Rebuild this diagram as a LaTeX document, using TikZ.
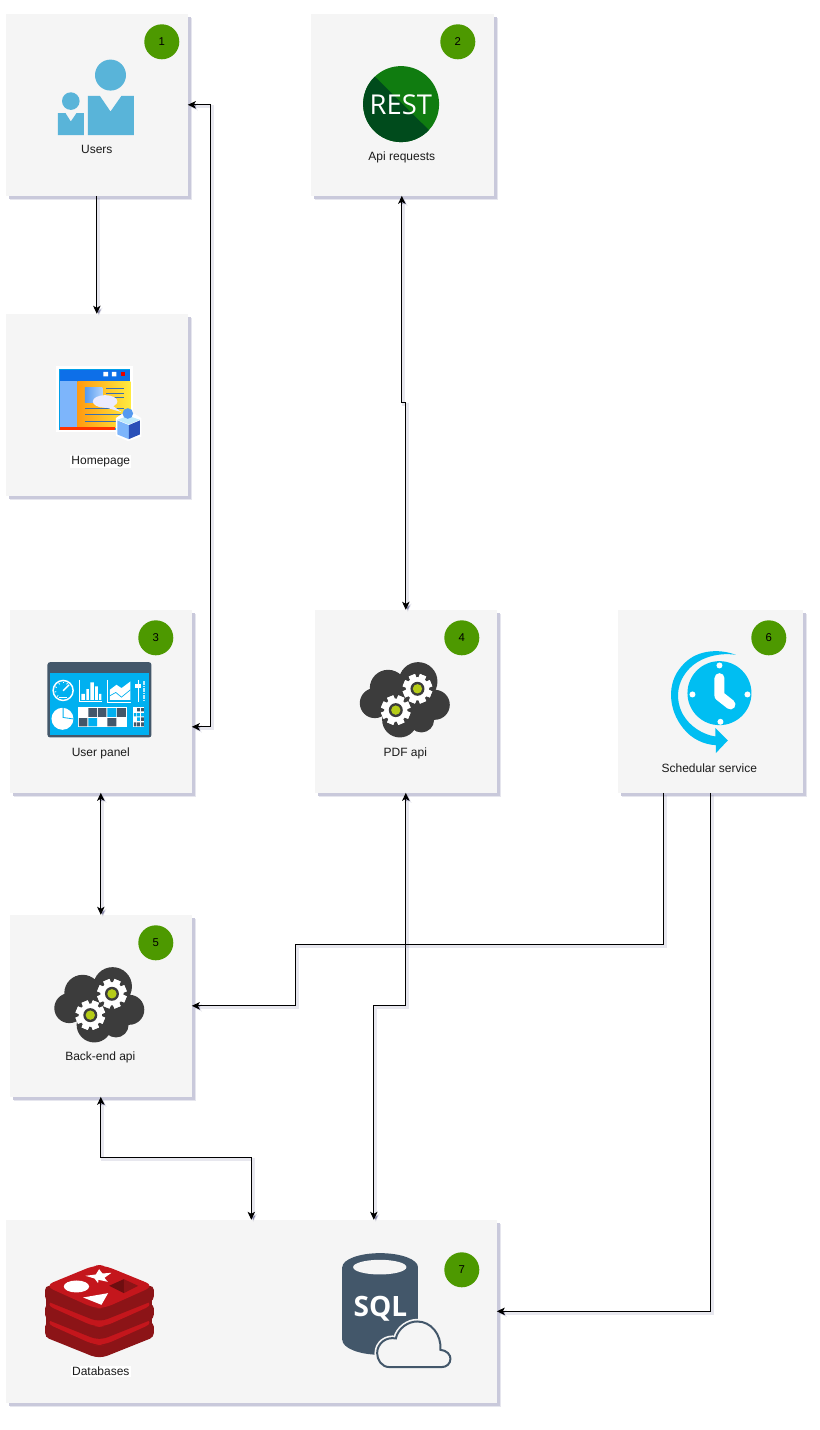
\documentclass[tikz,border=0pt]{standalone}
\usepackage{fontspec}
\setmainfont{Liberation Sans}
\newfontfamily\restfont{Open Sans}
\usetikzlibrary{arrows.meta,shapes.geometric}
\definecolor{boxbg}{HTML}{F5F5F5}
\definecolor{shadowa}{HTML}{E6E6EE}
\definecolor{shadowb}{HTML}{C9C9DB}
\definecolor{connshadow}{HTML}{8888AA}
\definecolor{badgegreen}{HTML}{4D9900}
\definecolor{userblue}{HTML}{59B4D9}
\definecolor{restlight}{HTML}{107C10}
\definecolor{restdark}{HTML}{004B1C}
\definecolor{slate}{HTML}{43576A}
\definecolor{cyanb}{HTML}{00B0F0}
\definecolor{clockb}{HTML}{00BEF2}
\definecolor{clouddark}{HTML}{3C3C3C}
\definecolor{lime}{HTML}{B5CC18}
\definecolor{redisred}{HTML}{C4161C}
\definecolor{redisdark}{HTML}{8C1417}
\definecolor{redisdeep}{HTML}{6E0E10}
\definecolor{labelcol}{HTML}{1A1A1A}
\definecolor{winblue}{HTML}{0D6FE8}
\definecolor{winedge}{HTML}{00A0E8}
\definecolor{winside}{HTML}{7DB5FB}
\definecolor{winline}{HTML}{3A6FB0}
\definecolor{winorange}{HTML}{FF9A10}
\definecolor{winyellow}{HTML}{FFEB40}
\definecolor{cubedark}{HTML}{2A50B8}
\tikzset{
  boxnode/.style={rectangle,fill=boxbg,inner sep=0pt,outer sep=0pt,
    preaction={fill=shadowa,transform canvas={shift={(3pt,-3pt)}}},
    preaction={fill=shadowb,transform canvas={shift={(2.2pt,-2.2pt)}}}},
  badge/.style={circle,fill=badgegreen,minimum size=26.25pt,inner sep=0pt,font=\fontsize{8.5}{10}\selectfont,text=black},
  lbl/.style={inner sep=1pt,font=\fontsize{9}{11}\selectfont,text=labelcol},
  conn/.style={draw=black,line width=.75pt,>={Stealth[length=6pt,width=5.5pt,inset=1.5pt]},
    preaction={draw=connshadow,draw opacity=.2,line width=2pt,transform canvas={shift={(1.5pt,-1.5pt)}}}},
}
\newcommand{\boxat}[5]{\node[boxnode,minimum width={(#4-#2)*0.75pt},minimum height={(#5-#3)*0.75pt}] (#1) at ({(#2+#4)/2},{(#3+#5)/2}) {};}
\newcommand{\geardraw}[2]{%
  \foreach \a in {0,45,...,315}
    \fill[white,rotate around={\a+22.5:(#1,#2)}] (#1-10,#2-44) rectangle (#1+10,#2+44);
  \fill[white] (#1,#2) circle (35);
  \fill[clouddark] (#1,#2) circle (21);
  \fill[lime] (#1,#2) circle (14);}
\newcommand{\cloudicon}[2]{%
  \begin{scope}[shift={(#1,#2)},scale=0.3333]
    \fill[clouddark] (235,185) circle (58) (145,205) circle (55) (105,250) circle (45)
      (285,255) circle (45) (180,300) circle (53) (245,300) circle (38) (200,250) circle (60);
    \geardraw{233}{207}
    \geardraw{168}{271}
  \end{scope}}
\newcommand{\redislayer}[1]{%
  \fill[redisdark,rounded corners=3pt] (46,108+#1) -- (46,152+#1) -- (195,212+#1) -- (222,212+#1) -- (372,152+#1) -- (372,108+#1) -- cycle;
  \fill[redisred,rounded corners=7pt] (44,108+#1) -- (195,46+#1) -- (222,46+#1) -- (374,108+#1) -- (222,176+#1) -- (195,176+#1) -- cycle;}
\begin{document}
\begin{tikzpicture}[x=0.75pt,y=-0.75pt]
\useasboundingbox (0.2,0.2) rectangle (820.2,1430.2);
\fill[white] (0,0) rectangle (821,1431);
% boxes
\boxat{users}{6}{14}{188}{196}
\boxat{rest}{311}{14}{494}{196}
\boxat{home}{6}{314}{188}{496}
\boxat{panel}{10}{610}{192}{793}
\boxat{pdf}{315}{610}{497}{793}
\boxat{sched}{618}{610}{803}{793}
\boxat{back}{10}{915}{192}{1097}
\boxat{db}{6}{1220}{497}{1403}
% connector ends
\coordinate (panelE) at (192,727);
\coordinate (backE) at (192,1006);
\coordinate (schedA) at (664,793);
\coordinate (dbN1) at (374,1220);
\coordinate (restS) at (402,196);
\coordinate (pdfN) at (406,610);
\coordinate (pdfS) at (406,793);
\coordinate (panelS) at (101,793);
\coordinate (backN) at (101,915);
\coordinate (backS) at (101,1097);
\coordinate (dbN2) at (251.5,1220);
% connectors
\draw[conn,->] (users.south) -- (home.north);
\draw[conn,<->] (users.east) -- (211,105) -- (211,727) -- (panelE);
\draw[conn,<->] (restS) -- (402,403) -- (406,403) -- (pdfN);
\draw[conn,<->] (panelS) -- (backN);
\draw[conn,<->] (pdfS) -- (406,1006) -- (374,1006) -- (dbN1);
\draw[conn,->] (schedA) -- (664,945) -- (296,945) -- (296,1006) -- (backE);
\draw[conn,->] (sched.south) -- (710.5,1311.5) -- (db.east);
\draw[conn,<->] (backS) -- (101,1158) -- (251.5,1158) -- (dbN2);
% badges
\node[badge] (b1) at (162,42) {1};
\node[badge] (b2) at (458,42) {2};
\node[badge] (b3) at (156,638) {3};
\node[badge] (b4) at (462,638) {4};
\node[badge] (b6) at (769,638) {6};
\node[badge] (b5) at (156,943) {5};
\node[badge] (b7) at (462,1270) {7};
% users icon
\fill[userblue] (110.7,75.3) circle (15.5);
\fill[userblue] (88,96) -- (100,96) -- (110.7,111.7) -- (121.7,96) -- (134,96) -- (134,135.3) -- (88,135.3) -- cycle;
\fill[userblue] (71,101.3) circle (8.8);
\fill[userblue] (58,113.3) -- (65.7,113.3) -- (71,121.7) -- (76.7,113.3) -- (84,113.3) -- (84,135.3) -- (58,135.3) -- cycle;
% rest icon
\fill[restlight] (401.3,104.3) circle (38);
\begin{scope}
  \clip (401.3,104.3) circle (38);
  \fill[restdark] (355,57) -- (445,146) -- (355,146) -- cycle;
\end{scope}
\node[text=white,inner sep=0pt,font=\restfont\fontsize{20.5}{22}\selectfont] (resttxt) at (401,104.5) {REST};
% homepage icon
\begin{scope}[shift={(40,350)},scale=0.3333]
  \fill[white] (50,50) rectangle (280,248);
  \fill[winedge] (58,58) rectangle (272,242);
  \fill[winblue] (60,60) rectangle (272,93);
  \fill[white] (191,66) rectangle (205,80) (216,66) rectangle (230,80);
  \fill[red!90!black] (243,66) rectangle (257,80);
  \shade[left color=winorange,right color=winyellow] (113,95) rectangle (272,233);
  \fill[winside] (62,95) rectangle (113,232);
  \fill[red!60!orange] (62,232) rectangle (225,240);
  \shade[left color=winblue!70!white,right color=winside!60!white] (135,112) rectangle (188,158);
  \foreach \yy in {117,130,143} \draw[winline,line width=.7pt] (200,\yy) -- (252,\yy);
  \draw[winline,line width=.7pt] (135,176) -- (252,176) (135,195) -- (252,195) (135,214) -- (240,214);
  \fill[blue!8!white] (215,165) -- (245,187) -- (195,172) -- cycle;
  \fill[blue!8!white] (196,155) ellipse (37 and 19);
  \fill[white] (228,205) -- (265,180) -- (305,205) -- (305,260) -- (265,274) -- (228,258) -- cycle;
  \fill[winside] (233,212) -- (267,226) -- (267,268) -- (233,254) -- cycle;
  \fill[cubedark] (267,226) -- (300,212) -- (300,254) -- (267,268) -- cycle;
  \fill[cyan!25!white] (233,210) -- (265,198) -- (300,210) -- (267,224) -- cycle;
  \fill[winblue!70!white] (264,191) circle (16);
\end{scope}
% dashboard icon
\begin{scope}[shift={(30,620)},scale=0.3333]
  \fill[slate,rounded corners=2pt] (53,127) rectangle (365,353);
  \fill[cyanb] (62,160) rectangle (358,345);
  % gauge
  \draw[white,line width=1.1pt] (100,212) circle (30);
  \draw[white,line width=1pt] (100,213) -- (118,195);
  \draw[white,line width=.8pt] (88,232) -- (112,232);
  \foreach \a in {135,170,205,240,270,300}
    \draw[white,line width=.6pt] (100,212) ++(\a:26) -- ++(\a:-5);
  % bars
  \draw[white,line width=.7pt] (148,180) -- (148,245) -- (218,245);
  \fill[white] (155,222) rectangle (165,240) (170,208) rectangle (177,240) (182,188) rectangle (192,240) (196,200) rectangle (204,240) (208,222) rectangle (215,240);
  % area
  \draw[white,line width=.7pt] (234,180) -- (234,247) -- (304,247);
  \fill[white] (240,210) -- (260,195) -- (275,205) -- (302,185) -- (302,240) -- (240,240) -- cycle;
  \draw[cyanb,line width=.5pt] (240,228) -- (258,218) -- (275,232) -- (302,210);
  % slider
  \draw[white,line width=.8pt] (325,180) -- (325,248);
  \fill[white] (317,194) rectangle (333,204);
  \foreach \yy in {184,191,...,246} \fill[white!75!cyanb] (339,\yy) rectangle (346,\yy+5);
  % pie
  \fill[white] (98,297) circle (33);
  \draw[cyanb,line width=.6pt] (100,262) -- (100,293) -- (134,298);
  % grid
  \fill[white] (145,262) rectangle (292,323);
  \fill[slate] (176,265) rectangle (202,291) (205,265) rectangle (230,291) (262,265) rectangle (288,291)
    (147,295) rectangle (173,320) (233,295) rectangle (260,320);
  \fill[cyanb] (233,265) rectangle (260,291) (176,295) rectangle (202,320);
  \fill[white] (310,262) rectangle (344,323);
  \fill[slate] (322,265) rectangle (330,275) (334,265) rectangle (342,275) (334,293) rectangle (342,303) (312,308) rectangle (320,320) (322,308) rectangle (330,320) (334,308) rectangle (342,320);
  \fill[cyanb] (312,280) rectangle (320,290) (322,280) rectangle (330,290) (334,280) rectangle (342,290) (322,293) rectangle (330,303);
\end{scope}
% clouds
\cloudicon{340}{620}
\cloudicon{34.5}{925}
% clock
\begin{scope}[shift={(640,620)},scale=0.3333]
  \fill[clockb] (239,220) circle (96);
  \fill[white] (239,137) circle (9) (158,224) circle (9) (323,224) circle (9) (242,306) circle (9);
  \draw[white,line width=7.5pt,line cap=round,line join=round] (239,175) -- (239,228) -- (272,254);
  \fill[clockb] (288,105) .. controls (235,85) and (165,90) .. (125,140) .. controls (80,190) and (85,270) .. (130,325) .. controls (155,358) and (195,375) .. (228,376) -- (228,400) -- (264,362) -- (227,325) -- (227,350) .. controls (190,345) and (150,320) .. (130,285) .. controls (105,240) and (110,185) .. (150,145) .. controls (185,110) and (240,98) .. (288,105) -- cycle;
\end{scope}
% redis
\begin{scope}[shift={(30,1250)},scale=0.3333]
  \fill[redisdark] (50,120) rectangle (368,262);
  \redislayer{110}
  \redislayer{55}
  \redislayer{0}
  \fill[white] (140,110) ellipse (38 and 18);
  \fill[white] (167,78) -- (198,74) -- (208,58) -- (218,71) -- (245,69) -- (224,84) -- (234,96) -- (206,90) -- (205,100) -- (194,86) -- cycle;
  \fill[white] (160,143) -- (235,130) -- (215,165) -- cycle;
  \fill[redisdeep] (238,108) -- (282,88) -- (282,130) -- cycle;
  \fill[redisdark] (282,88) -- (325,108) -- (282,130) -- cycle;
\end{scope}
% sql
\begin{scope}[shift={(330,1240)},scale=0.3333]
  \fill[slate] (38,82) rectangle (265,300);
  \fill[slate] (151,82) ellipse (113.5 and 42) (151,300) ellipse (113.5 and 45);
  \fill[boxbg] (150,82) ellipse (80 and 22);
  \node[text=white,inner sep=0pt,font=\restfont\bfseries\fontsize{21}{24}\selectfont] (sqltxt) at (152,207) {SQL};
  \draw[boxbg,line width=4pt] (180,382) .. controls (155,382) and (142,360) .. (142,340) .. controls (142,310) and (170,290) .. (198,296) .. controls (205,265) and (235,245) .. (262,245) .. controls (305,245) and (335,285) .. (332,330) .. controls (352,332) and (362,345) .. (362,357) .. controls (362,372) and (350,382) .. (335,382) -- cycle;
  \draw[slate,fill=boxbg,line width=1.5pt] (180,382) .. controls (155,382) and (142,360) .. (142,340) .. controls (142,310) and (170,290) .. (198,296) .. controls (205,265) and (235,245) .. (262,245) .. controls (305,245) and (335,285) .. (332,330) .. controls (352,332) and (362,345) .. (362,357) .. controls (362,372) and (350,382) .. (335,382) -- cycle;
\end{scope}
% labels
\node[lbl] (l1) at (97,149.5) {Users};
\node[lbl] (l2) at (402,158) {Api requests};
\node[lbl,fill=white] (l3) at (101,461.5) {Homepage};
\node[lbl] (l4) at (101,753.5) {User panel};
\node[lbl] (l5) at (405.5,753.5) {PDF api};
\node[lbl] (l6) at (709.5,768) {Schedular service};
\node[lbl] (l7) at (100.5,1058) {Back-end api};
\node[lbl,fill=white] (l8) at (101,1371.5) {Databases};
\end{tikzpicture}
\end{document}
